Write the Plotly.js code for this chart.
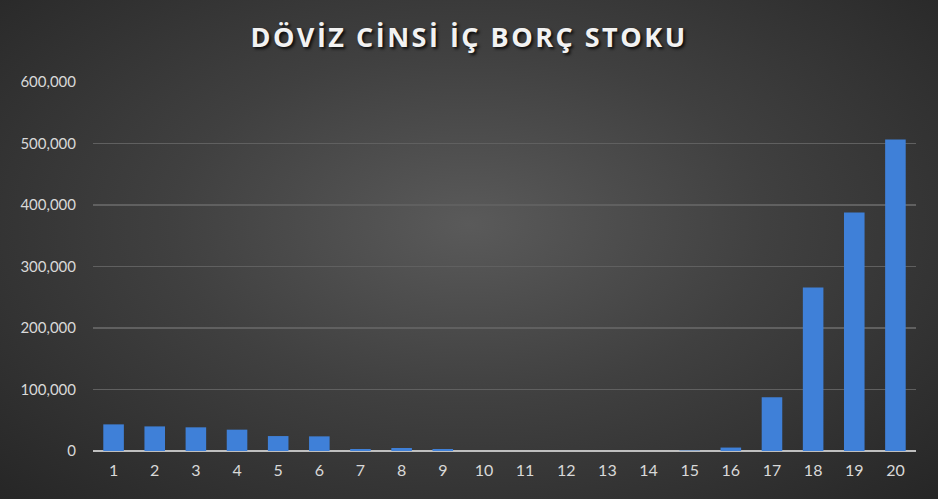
<!DOCTYPE html>
<html><head><meta charset="utf-8">
<script src="https://cdn.plot.ly/plotly-3.0.1.min.js"></script>
<style>
html,body{margin:0;padding:0;}
#chart{width:938px;height:499px;background:radial-gradient(ellipse at 50% 45%, #5a5a5a 0%, #404040 45%, #262626 100%);}
#chart .gtitle{letter-spacing:2.5px;text-shadow:2px 2px 3px rgba(0,0,0,0.8);}
</style>
</head><body>
<div id="chart"></div>
<script>
const categories = ["1","2","3","4","5","6","7","8","9","10","11","12","13","14","15","16","17","18","19","20"];
const values = [43300, 40000, 38500, 34700, 24300, 23800, 3300, 4900, 3300, 0, 0, 0, 0, 0, 700, 5600, 87500, 266000, 388000, 506500];
const yTickVals = [0, 100000, 200000, 300000, 400000, 500000, 600000];
const yTickText = ["0", "100,000", "200,000", "300,000", "400,000", "500,000", "600,000"];

Plotly.newPlot('chart', [{
  type: 'bar',
  x: categories,
  y: values,
  marker: {color: '#3f80d8', line: {width: 0}},
  hoverinfo: 'x+y'
}], {
  width: 938, height: 499,
  paper_bgcolor: 'rgba(0,0,0,0)',
  plot_bgcolor: 'rgba(0,0,0,0)',
  margin: {l: 93, r: 22, t: 82, b: 48},
  bargap: 0.5,
  showlegend: false,
  title: {text: 'DÖVİZ CİNSİ İÇ BORÇ STOKU', x: 0.5, xanchor: 'center', y: 0.924, yanchor: 'middle',
          font: {family: 'Open Sans, Lato, sans-serif', size: 27, color: '#f2f2f2', weight: 700}},
  xaxis: {type: 'category', showgrid: false, showline: false, zeroline: false, ticks: '',
          tickfont: {family: 'Lato, Open Sans, sans-serif', size: 16, color: '#d9d9d9'}, ticklabelstandoff: 8},
  yaxis: {range: [0, 600000], tickvals: yTickVals, ticktext: yTickText, showgrid: true,
          gridcolor: '#606060', gridwidth: 1.5, zeroline: true, zerolinecolor: '#bfbfbf', zerolinewidth: 2,
          showline: false, ticks: '', ticklabelstandoff: 16,
          tickfont: {family: 'Lato, Open Sans, sans-serif', size: 15, color: '#d9d9d9'}}
}, {displayModeBar: false, staticPlot: true});
</script>
</body></html>
